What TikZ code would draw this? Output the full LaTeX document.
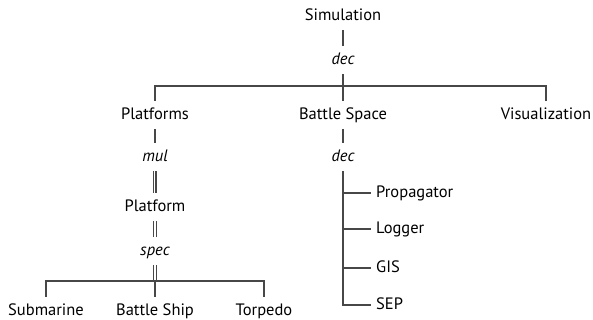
\documentclass[tikz,border=0pt]{standalone}
\usepackage{fontspec}
\setmainfont{PT Sans}
\begin{document}
\begin{tikzpicture}[x=1pt,y=-1pt,
  every node/.style={text=black, font=\fontsize{16.5}{19}\selectfont, text height=11.5pt, text depth=3pt, inner ysep=6.8pt, inner xsep=2pt},
  lbl/.style={font=\fontsize{16.5}{19}\selectfont\itshape},
  leaf/.style={anchor=west, inner xsep=5pt},
  conn/.style={draw=black!72, line width=1.3pt},
  thin/.style={draw=black!72, line width=0.9pt}]
\useasboundingbox (0,0) rectangle (593,320);
% nodes
\node (sim) at (343,16) {Simulation};
\node[lbl] (dec1) at (343,60) {dec};
\node (plats) at (155,115) {Platforms};
\node (bs) at (343,115) {Battle Space};
\node (vis) at (546,115) {Visualization};
\node[lbl] (mul) at (155,157) {mul};
\node (platform) at (155,207) {Platform};
\node[lbl] (spec) at (155,251) {spec};
\node (sub) at (46,311) {Submarine};
\node (bship) at (155,311) {Battle Ship};
\node (torp) at (264,311) {Torpedo};
\node[lbl] (dec2) at (343,157) {dec};
\node[leaf] (prop) at (371,193) {Propagator};
\node[leaf] (log) at (371,229) {Logger};
\node[leaf] (gis) at (371,268) {GIS};
\node[leaf] (sep) at (371,305) {SEP};
\coordinate (j1) at (343,86);
\coordinate (j2) at (155,281);
% connectors
\draw[conn] (sim) -- (dec1);
\draw[conn] (dec1) -- (bs);
\draw[conn] (plats) |- (j1) -| (vis);
\draw[conn] (plats) -- (mul);
\draw[thin] ([xshift=-1.7pt]mul.south) -- ([xshift=-1.7pt]platform.north);
\draw[thin] (mul.south) -- (platform.north);
\draw[thin] ([xshift=1.7pt]mul.south) -- ([xshift=1.7pt]platform.north);
\draw[thin] ([xshift=-1.5pt]platform.south) -- ([xshift=-1.5pt]spec.north);
\draw[thin] ([xshift=1.5pt]platform.south) -- ([xshift=1.5pt]spec.north);
\draw[thin] ([xshift=-1.5pt]spec.south) -- ([xshift=-1.5pt]j2);
\draw[thin] ([xshift=1.5pt]spec.south) -- ([xshift=1.5pt]j2);
\draw[conn] (sub) |- (j2) -| (torp);
\draw[conn] (j2) -- (bship);
\draw[conn] (bs) -- (dec2);
\draw[conn] (dec2) |- (prop);
\draw[conn] (dec2) |- (log);
\draw[conn] (dec2) |- (gis);
\draw[conn] (dec2) |- (sep);
\end{tikzpicture}
\end{document}
